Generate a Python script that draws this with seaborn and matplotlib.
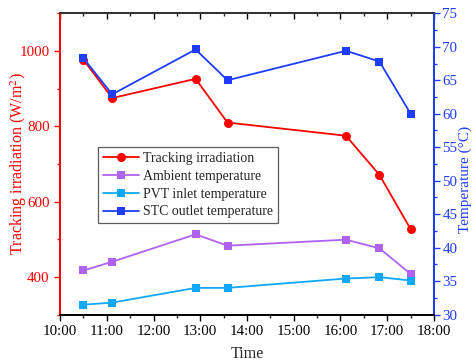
import matplotlib
matplotlib.use("Agg")
import matplotlib.pyplot as plt
from matplotlib.ticker import MultipleLocator
import seaborn as sns
import pandas as pd

times = ["10:30", "11:07", "12:54", "13:35", "16:07", "16:50", "17:30"]
irradiation = [977, 875, 926, 810, 775, 671, 527]
ambient_temp = [36.6, 37.9, 42.0, 40.3, 41.2, 39.9, 36.1]
pvt_inlet_temp = [31.5, 31.8, 34.0, 34.0, 35.4, 35.6, 35.1]
stc_outlet_temp = [68.3, 62.9, 69.6, 65.0, 69.4, 67.8, 60.0]
x_tick_labels = ["10:00", "11:00", "12:00", "13:00", "14:00", "15:00", "16:00", "17:00", "18:00"]

hours = [int(t.split(":")[0]) + int(t.split(":")[1]) / 60 for t in times]
df = pd.DataFrame({"hour": hours, "irr": irradiation, "amb": ambient_temp,
                   "pvt": pvt_inlet_temp, "stc": stc_outlet_temp})

sns.set_style("white")
plt.rcParams["font.family"] = ["Liberation Serif", "DejaVu Serif"]
plt.rcParams["mathtext.fontset"] = "stix"

RED = "#ff0000"
PURPLE = "#b063f2"
CYAN = "#11a8fb"
BLUE = "#1f3dff"

fig = plt.figure(figsize=(4.74, 3.62), dpi=100)
ax = fig.add_axes([0.1266, 0.1307, 0.7890, 0.8326])
ax2 = ax.twinx()

sns.lineplot(data=df, x="hour", y="irr", ax=ax, color=RED, marker="o", markersize=6.5,
             markeredgewidth=0, linewidth=1.3, label="Tracking irradiation", legend=False)
sns.lineplot(data=df, x="hour", y="amb", ax=ax2, color=PURPLE, marker="s", markersize=6,
             markeredgewidth=0, linewidth=1.3, label="Ambient temperature", legend=False)
sns.lineplot(data=df, x="hour", y="pvt", ax=ax2, color=CYAN, marker="s", markersize=6,
             markeredgewidth=0, linewidth=1.3, label="PVT inlet temperature", legend=False)
sns.lineplot(data=df, x="hour", y="stc", ax=ax2, color=BLUE, marker="s", markersize=6,
             markeredgewidth=0, linewidth=1.3, label="STC outlet temperature", legend=False)

ax.set_xlim(10, 18)
ax.set_ylim(300, 1100)
ax2.set_ylim(30, 75)

ax.set_xticks(range(10, 19))
ax.set_xticklabels(x_tick_labels)
ax.xaxis.set_minor_locator(MultipleLocator(0.5))
ax.set_yticks([400, 600, 800, 1000])
ax.yaxis.set_minor_locator(MultipleLocator(100))
ax2.yaxis.set_major_locator(MultipleLocator(5))
ax2.yaxis.set_minor_locator(MultipleLocator(2.5))

fs = 10.8
ax.tick_params(axis="x", which="major", direction="out", length=4, width=1, labelsize=fs,
               top=True, bottom=True, colors="black")
ax.tick_params(axis="x", which="minor", direction="out", length=2, width=1, top=True, bottom=True)
ax.tick_params(axis="y", which="major", direction="out", length=4, width=1, labelsize=fs,
               colors=RED, left=True)
ax.tick_params(axis="y", which="minor", direction="out", length=2, width=1, colors=RED, left=True)
ax2.tick_params(axis="y", which="major", direction="out", length=4, width=1, labelsize=fs,
                colors=BLUE, right=True, pad=2)
ax2.tick_params(axis="y", which="minor", direction="out", length=2, width=1, colors=BLUE, right=True)
# top ticks point inward
for t in ax.xaxis.get_major_ticks() + ax.xaxis.get_minor_ticks():
    t.tick2line.set_marker(3)

ax.spines["left"].set_color(RED)
ax2.spines["left"].set_color(RED)
ax2.spines["right"].set_color(BLUE)
for a in (ax, ax2):
    for s in a.spines.values():
        s.set_linewidth(1.3)
    a.spines["top"].set_color("#333333")
    a.spines["bottom"].set_color("black")

ax.set_xlabel("Time", fontsize=11.5, labelpad=6)
ax.set_ylabel("Tracking irradiation (W/m$^2$)", fontsize=11.5, color=RED)
ax.yaxis.set_label_coords(-0.083, 0.502)
ax2.set_ylabel("Temperature (\u00b0C)", fontsize=11, color=BLUE)
ax2.yaxis.set_label_coords((459 - 60) / 374, 0.45)

h1, l1 = ax.get_legend_handles_labels()
h2, l2 = ax2.get_legend_handles_labels()
leg = ax2.legend(h1 + h2, l1 + l2, loc="upper left", bbox_to_anchor=(98 / 474, 1 - 147 / 362),
                 bbox_transform=fig.transFigure, fontsize=10, frameon=True, fancybox=False,
                 edgecolor="#333333", handlelength=2.6, handletextpad=0.3, labelspacing=0.35,
                 borderpad=0.35, borderaxespad=0)
leg.get_frame().set_linewidth(0.9)

fig.savefig("out.png", dpi=100)
